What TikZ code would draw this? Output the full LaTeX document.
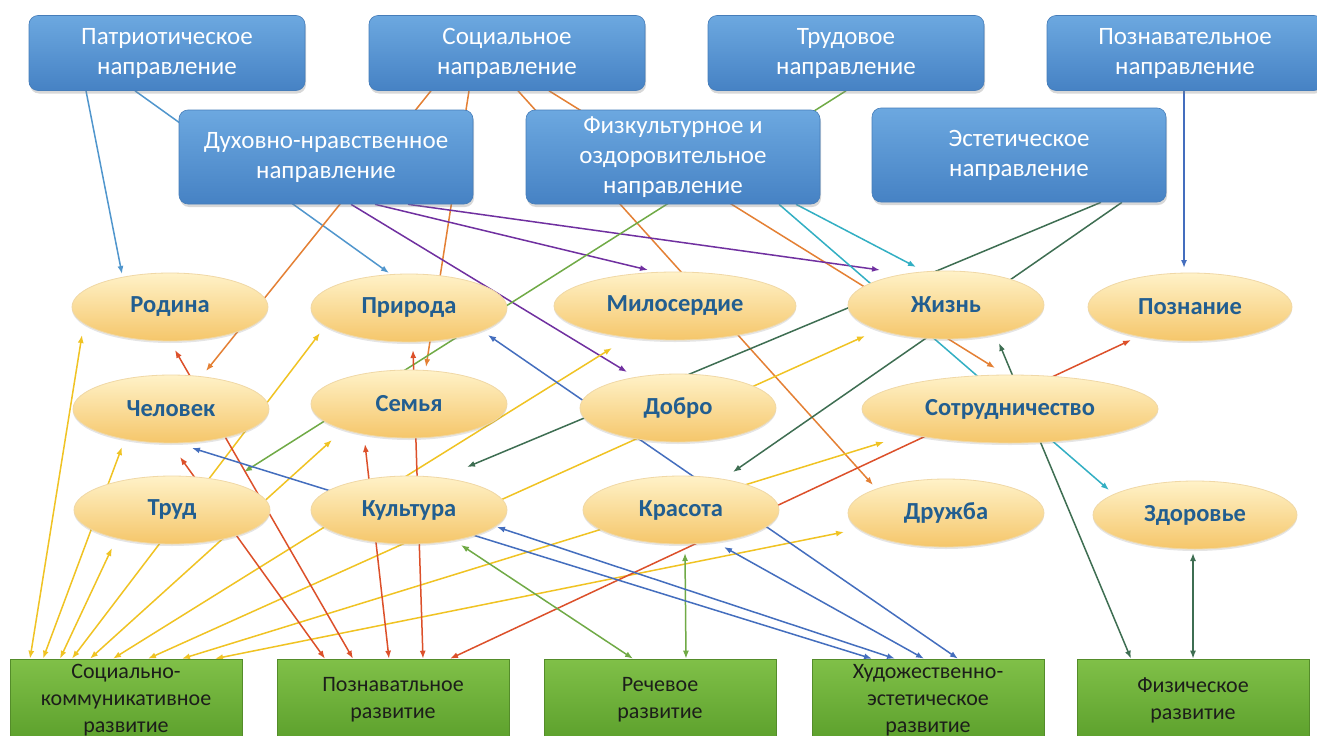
\documentclass[tikz,border=0pt]{standalone}
\usepackage{fontspec}
\setmainfont{Carlito}
\usetikzlibrary{arrows.meta,shapes.geometric,shadows}
\pgfdeclarelayer{nodelayer}
\pgfdeclarelayer{edgelayer}
\pgfsetlayers{edgelayer,nodelayer,main}
\definecolor{boxtop}{RGB}{108,168,224}
\definecolor{boxbottom}{RGB}{70,130,196}
\definecolor{boxline}{RGB}{70,125,185}
\definecolor{ovaltop}{RGB}{255,242,200}
\definecolor{ovalmid}{RGB}{253,224,152}
\definecolor{ovalbottom}{RGB}{245,198,106}
\definecolor{ovalline}{RGB}{240,216,166}
\definecolor{ovaltext}{RGB}{34,94,144}
\definecolor{areatop}{RGB}{128,192,72}
\definecolor{areabottom}{RGB}{92,160,44}
\definecolor{arealine}{RGB}{84,140,42}
\definecolor{areatext}{RGB}{28,30,26}
\definecolor{lineblue}{RGB}{80,150,205}
\definecolor{lineorange}{RGB}{228,128,52}
\definecolor{linepurple}{RGB}{112,48,160}
\definecolor{linegreen}{RGB}{112,170,70}
\definecolor{lineteal}{RGB}{50,175,195}
\definecolor{linedark}{RGB}{62,110,82}
\definecolor{linenavy}{RGB}{68,110,190}
\definecolor{linered}{RGB}{220,80,42}
\definecolor{lineyellow}{RGB}{240,195,35}
\tikzset{>={Latex[length=8pt,width=6pt]}}
\tikzstyle{direction box}=[shape=rectangle, rounded corners=9pt, minimum width=276pt, minimum height=75pt, inner sep=0pt, align=center, text=white, font=\fontsize{25}{30}\selectfont, draw=boxline, line width=0.6pt, top color=boxtop, bottom color=boxbottom, drop shadow={opacity=0.3, shadow xshift=1pt, shadow yshift=-3pt}]
\tikzstyle{direction box 0}=[style=direction box, minimum width=294pt, minimum height=94pt]
\tikzstyle{value oval}=[shape=ellipse, minimum width=196pt, minimum height=68pt, inner sep=0pt, font=\bfseries\fontsize{24.5}{28}\selectfont, text=ovaltext, draw=ovalline, line width=0.8pt, top color=ovaltop, middle color=ovalmid, bottom color=ovalbottom, drop shadow={opacity=0.2, shadow xshift=0pt, shadow yshift=-2pt}]
\tikzstyle{area box}=[shape=rectangle, minimum width=232pt, minimum height=82pt, inner sep=0pt, align=center, text=areatext, font=\fontsize{22}{27}\selectfont, draw=arealine, line width=0.6pt, top color=areatop, bottom color=areabottom]
\tikzstyle{light edge}=[draw=lineblue, line width=1.5pt, ->]
\tikzstyle{orange edge}=[draw=lineorange, line width=1.5pt, ->]
\tikzstyle{purple edge}=[draw=linepurple, line width=1.5pt, ->]
\tikzstyle{green edge}=[draw=linegreen, line width=1.5pt, ->]
\tikzstyle{green edge 0}=[draw=linegreen, line width=1.5pt, <->]
\tikzstyle{teal edge}=[draw=lineteal, line width=1.5pt, ->]
\tikzstyle{dark edge}=[draw=linedark, line width=1.5pt, ->]
\tikzstyle{dark edge 0}=[draw=linedark, line width=1.5pt, <->]
\tikzstyle{navy edge}=[draw=linenavy, line width=1.5pt, ->]
\tikzstyle{navy edge 0}=[draw=linenavy, line width=1.5pt, <->]
\tikzstyle{red edge 0}=[draw=linered, line width=1.5pt, <->]
\tikzstyle{yellow edge 0}=[draw=lineyellow, line width=1.5pt, <->]

\begin{document}
\begin{tikzpicture}[x=1pt, y=-1pt]
	\useasboundingbox (0, 0) rectangle (1317, 736);
	\begin{pgfonlayer}{nodelayer}
		\node [style=direction box] (0) at (167, 53) {Патриотическое\\направление};
		\node [style=direction box] (1) at (507, 53) {Социальное\\направление};
		\node [style=direction box] (2) at (846, 53) {Трудовое\\направление};
		\node [style=direction box] (3) at (1185, 53) {Познавательное\\направление};
		\node [style=direction box 0] (4) at (326, 157) {Духовно-нравственное\\направление};
		\node [style=direction box 0] (5) at (673, 157) {Физкультурное и\\оздоровительное\\направление};
		\node [style=direction box 0] (6) at (1019, 155) {Эстетическое\\направление};
		\node [style=value oval] (7) at (170, 307) {Родина};
		\node [style=value oval] (8) at (409, 308) {Природа};
		\node [style=value oval, minimum width=242pt] (9) at (675, 306) {Милосердие};
		\node [style=value oval] (10) at (946, 305) {Жизнь};
		\node [style=value oval, minimum width=204pt] (11) at (1190, 307) {Познание};
		\node [style=value oval] (12) at (171, 409) {Человек};
		\node [style=value oval] (13) at (409, 404) {Семья};
		\node [style=value oval] (14) at (678, 408) {Добро};
		\node [style=value oval, minimum width=296pt] (15) at (1010, 409) {Сотрудничество};
		\node [style=value oval] (16) at (172, 510) {Труд};
		\node [style=value oval] (17) at (409, 510) {Культура};
		\node [style=value oval] (18) at (681, 510) {Красота};
		\node [style=value oval] (19) at (946, 513) {Дружба};
		\node [style=value oval, minimum width=204pt] (20) at (1195, 515) {Здоровье};
		\node [style=area box] (21) at (126, 700) {Социально-\\коммуникативное\\развитие};
		\node [style=area box] (22) at (393, 700) {Познаватльное\\развитие};
		\node [style=area box] (23) at (660, 700) {Речевое\\развитие};
		\node [style=area box] (24) at (928, 700) {Художественно-\\эстетическое\\развитие};
		\node [style=area box] (25) at (1193, 700) {Физическое\\развитие};
	\end{pgfonlayer}
	\begin{pgfonlayer}{edgelayer}
		\fill [white] (0, 0) rectangle (1317, 736);
		\draw [style=light edge] ([shift={(-81,0)}]0.south) to ([shift={(-48,-33)}]7.center);
		\draw [style=light edge] ([shift={(-32,0)}]0.south) to ([shift={(-20,-35)}]8.center);
		\draw [style=orange edge] ([shift={(-76,0)}]1.south) to ([shift={(35,-38)}]12.center);
		\draw [style=orange edge] ([shift={(-38,0)}]1.south) to ([shift={(17,-37)}]13.center);
		\draw [style=orange edge] ([shift={(11,0)}]1.south) to ([shift={(-73,-28)}]19.center);
		\draw [style=orange edge] ([shift={(42,0)}]1.south) to ([shift={(-15,-41)}]15.center);
		\draw [style=purple edge] ([shift={(25,0)}]4.south) to ([shift={(-51,-36)}]14.center);
		\draw [style=purple edge] ([shift={(49,0)}]4.south) to ([shift={(-27,-36)}]9.center);
		\draw [style=purple edge] ([shift={(82,0)}]4.south) to ([shift={(-66,-35)}]10.center);
		\draw [style=green edge] (2.south) to ([shift={(72,-38)}]16.center);
		\draw [style=teal edge] ([shift={(123,0)}]5.south) to ([shift={(-30,-38)}]10.center);
		\draw [style=teal edge] ([shift={(106,0)}]5.south) to ([shift={(-86,-25)}]20.center);
		\draw [style=dark edge] ([shift={(82,0)}]6.south) to ([shift={(58,-43)}]17.center);
		\draw [style=dark edge] ([shift={(103,0)}]6.south) to ([shift={(52,-38)}]18.center);
		\draw [style=navy edge] ([shift={(-1,0)}]3.south) to ([shift={(-6,-39)}]11.center);
		\draw [style=yellow edge 0] ([shift={(-96,0)}]21.north) to ([shift={(-88,28)}]7.center);
		\draw [style=yellow edge 0] ([shift={(-83,0)}]21.north) to ([shift={(-49,38)}]12.center);
		\draw [style=yellow edge 0] ([shift={(-66,0)}]21.north) to ([shift={(-60,38)}]16.center);
		\draw [style=yellow edge 0] ([shift={(-54,0)}]21.north) to ([shift={(-89,25)}]8.center);
		\draw [style=yellow edge 0] ([shift={(-36,0)}]21.north) to ([shift={(-77,36)}]13.center);
		\draw [style=yellow edge 0] ([shift={(-13,0)}]21.north) to ([shift={(-63,42)}]9.center);
		\draw [style=yellow edge 0] ([shift={(22,0)}]21.north) to ([shift={(-81,31)}]10.center);
		\draw [style=yellow edge 0] ([shift={(56,0)}]21.north) to ([shift={(-126,33)}]15.center);
		\draw [style=yellow edge 0] ([shift={(89,0)}]21.north) to ([shift={(-102,19)}]19.center);
		\draw [style=red edge 0] ([shift={(-40,0)}]22.north) to ([shift={(5,43)}]7.center);
		\draw [style=red edge 0] ([shift={(-68,0)}]22.north) to ([shift={(9,48)}]12.center);
		\draw [style=red edge 0] ([shift={(-4,0)}]22.north) to ([shift={(-44,40)}]13.center);
		\draw [style=red edge 0] ([shift={(30,0)}]22.north) to ([shift={(4,42)}]8.center);
		\draw [style=red edge 0] ([shift={(57,0)}]22.north) to ([shift={(-59,33)}]11.center);
		\draw [style=green edge 0] ([shift={(-27,0)}]23.north) to ([shift={(52,35)}]17.center);
		\draw [style=green edge 0] ([shift={(26,0)}]23.north) to ([shift={(4,43)}]18.center);
		\draw [style=navy edge 0] ([shift={(-56,0)}]24.north) to ([shift={(21,39)}]12.center);
		\draw [style=navy edge 0] ([shift={(-33,0)}]24.north) to ([shift={(88,17)}]17.center);
		\draw [style=navy edge 0] ([shift={(-4,0)}]24.north) to ([shift={(43,37)}]18.center);
		\draw [style=navy edge 0] ([shift={(30,0)}]24.north) to ([shift={(79,27)}]8.center);
		\draw [style=dark edge 0] ([shift={(-62,0)}]25.north) to ([shift={(53,38)}]10.center);
		\draw [style=dark edge 0] (25.north) to ([shift={(-2,38)}]20.center);
	\end{pgfonlayer}
\end{tikzpicture}
\end{document}
